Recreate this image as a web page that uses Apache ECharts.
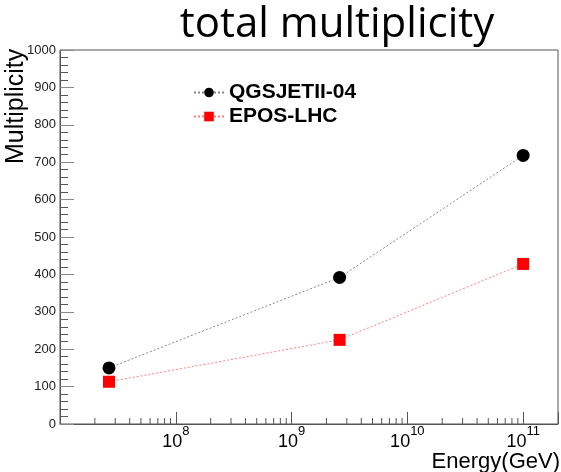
<!DOCTYPE html>
<html>
<head>
<meta charset="utf-8">
<script src="https://cdn.jsdelivr.net/npm/echarts@6/dist/echarts.min.js"></script>
<style>html,body{margin:0;padding:0;background:#fff;}#c{width:561px;height:472px;}</style>
</head>
<body>
<div id="c"></div>
<script>
var energies = [2.65e7, 2.6e9, 1e11];
var qgsjet = [150, 392, 718];
var epos = [113, 225, 428];
var seriesNames = ['QGSJETII-04', 'EPOS-LHC'];
var xMin = 1e7, xMax = 2e11;
var yMin = 0, yMax = 1000, yStep = 100;

var minorX = [];
for (var d = 7; d <= 11; d++) {
  for (var m = 2; m <= 9; m++) {
    var v = m * Math.pow(10, d);
    if (v < xMax) minorX.push([v, 0]);
  }
}

var chart = echarts.init(document.getElementById('c'), null, {renderer: 'canvas'});
var axisColor = '#555';
chart.setOption({
  animation: false,
  title: {
    text: 'total multiplicity',
    left: 332, top: -1, textAlign: 'center',
    textStyle: {fontFamily: 'Open Sans', fontWeight: 'normal', fontSize: 42, color: '#000'}
  },
  grid: {left: 60, right: 1, top: 50, bottom: 48, show: true, borderColor: axisColor, borderWidth: 1},
  legend: {
    orient: 'vertical', left: 188, top: 77, itemGap: 3,
    itemWidth: 30, itemHeight: 12,
    data: seriesNames,
    textStyle: {fontFamily: 'Liberation Sans', fontWeight: 'bold', fontSize: 21, color: '#000'}
  },
  xAxis: {
    type: 'log', min: xMin, max: xMax, logBase: 10,
    axisLine: {lineStyle: {color: axisColor}},
    axisTick: {inside: true, length: 12, lineStyle: {color: axisColor}},
    splitLine: {show: false},
    axisLabel: {
      margin: 1,
      formatter: function (v) {
        var e = Math.round(Math.log10(v));
        if (e <= 7 || Math.abs(v - Math.pow(10, e)) > 1e-6 * v) return '';
        return '{b|10}{s|' + e + '}';
      },
      rich: {
        b: {fontFamily: 'Liberation Sans', fontSize: 18, color: '#000', verticalAlign: 'bottom', padding: [8, 0, 0, 0]},
        s: {fontFamily: 'Liberation Sans', fontSize: 13, color: '#000', verticalAlign: 'top', padding: [0, 0, 8, 0]}
      }
    }
  },
  yAxis: {
    type: 'value', min: yMin, max: yMax, interval: yStep,
    axisLine: {show: true, lineStyle: {color: axisColor}},
    axisTick: {show: true, inside: true, length: 14, lineStyle: {color: '#888'}},
    minorTick: {show: true, splitNumber: 5, length: 8, lineStyle: {color: axisColor}},
    splitLine: {show: false},
    axisLabel: {fontFamily: 'Liberation Sans', fontSize: 13, color: '#222', margin: 4,
      formatter: function (v) { return String(v); }}
  },
  graphic: [
    {type: 'text', rotation: Math.PI / 2,
     style: {text: 'Multiplicity', fontFamily: 'Liberation Sans', fontSize: 25, fill: '#000'},
     x: 4, y: 164},
    {type: 'text', right: 1, top: 451,
     style: {text: 'Energy(GeV)', fontFamily: 'Liberation Sans', fontSize: 22, fill: '#000'}}
  ],
  series: [
    {
      name: seriesNames[0], type: 'line',
      data: energies.map(function (e, i) { return [e, qgsjet[i]]; }),
      symbol: 'circle', symbolSize: 13,
      itemStyle: {color: '#000'},
      lineStyle: {color: '#888', width: 1, type: [2, 2]}
    },
    {
      name: seriesNames[1], type: 'line',
      data: energies.map(function (e, i) { return [e, epos[i]]; }),
      symbol: 'rect', symbolSize: 12,
      itemStyle: {color: '#ff0000'},
      lineStyle: {color: '#ff8080', width: 1, type: [2, 2]}
    },
    {
      name: 'minorTicksX', type: 'custom', silent: true,
      data: minorX,
      renderItem: function (params, api) {
        var p = api.coord([api.value(0), api.value(1)]);
        return {type: 'line', shape: {x1: p[0], y1: p[1], x2: p[0], y2: p[1] - 6},
                style: {stroke: axisColor, lineWidth: 1}};
      }
    }
  ]
});
</script>
</body>
</html>
